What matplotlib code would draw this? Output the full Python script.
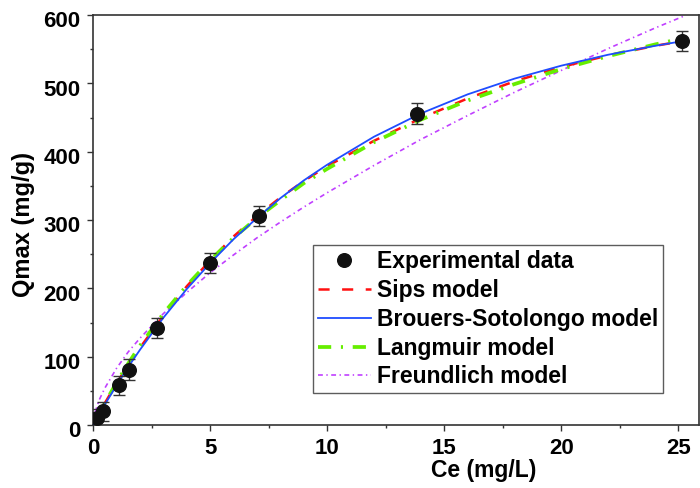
import numpy as np
import matplotlib
matplotlib.use("Agg")
import matplotlib.pyplot as plt
import matplotlib.transforms as mtransforms

plt.rcParams['font.family'] = ['Liberation Sans', 'DejaVu Sans']
plt.rcParams['font.weight'] = 'bold'
plt.rcParams['lines.scale_dashes'] = False

# experimental data
ce = [0.16, 0.44, 1.11, 1.55, 2.75, 5.0, 7.1, 13.85, 25.15]
qe = [10, 20, 58, 81, 142, 237, 306, 456, 562]
qe_err = [14, 14, 14, 15, 15, 15, 15, 15, 15]

# model curves
ce_fit = [0, 0.25, 0.5, 1, 1.5, 2, 3, 4, 5, 6, 7, 8, 9, 10, 12, 14, 16, 18, 20, 22, 24, 25.2]
q_sips = [0, 16, 32, 61, 88, 113, 160, 203, 241, 276, 306, 333, 357, 379, 416, 449, 478, 503, 524, 541, 555, 562]
q_bs = [0, 15, 30, 58, 85, 110, 157, 199, 237, 272, 303, 332, 358, 381, 422, 456, 484, 507, 526, 542, 555, 562]
q_lang = [0, 16, 32, 62, 90, 116, 163, 204, 241, 274, 303, 329, 354, 375, 414, 447, 475, 499, 521, 540, 557, 566]
ce_fr = [0, 0.1, 0.25, 0.5, 1, 1.5, 2, 3, 4, 5, 6, 7, 8, 9, 10, 12, 14, 16, 18, 20, 22, 24, 25.2]
q_fr = [0, 20, 36, 54, 83, 107, 127, 163, 194, 223, 249, 274, 297, 319, 340, 380, 418, 453, 487, 519, 551, 581, 598]

fig = plt.figure(figsize=(7, 4.88), dpi=100)
ax = fig.add_axes([0.133, 0.129, 0.866, 0.840])

l_sips, = ax.plot(ce_fit, q_sips, color='#ff1010', lw=1.8, dashes=(8, 9), zorder=3)
l_bs, = ax.plot(ce_fit, q_bs, color='#1f4cff', lw=1.3, zorder=4)
l_lang, = ax.plot(ce_fit, q_lang, color='#66ee00', lw=2.7, dashes=(9.5, 7, 1.5, 7), zorder=3)
l_fr, = ax.plot(ce_fr, q_fr, color='#c040ff', lw=1.2, dashes=(3.5, 2.5, 1, 2.5), zorder=2)
eb = ax.errorbar(ce, qe, yerr=qe_err, fmt='o', color='#111111', ecolor='#333333',
                 markersize=9.8, elinewidth=1, capsize=4, capthick=1, zorder=5)

ax.set_xlim(0, 25.9)
ax.set_ylim(0, 600)
ax.set_xticks([0, 5, 10, 15, 20, 25])
ax.set_xticks([2.5, 7.5, 12.5, 17.5, 22.5], minor=True)
ax.set_yticks(np.arange(0, 601, 100))
ax.set_yticks(np.arange(50, 600, 100), minor=True)
ax.tick_params(which='major', length=4, width=1, labelsize=16, color='#333333')
ax.tick_params(axis='x', which='major', pad=5)
ax.tick_params(axis='y', which='major', pad=5)
ax.tick_params(which='minor', length=2.5, width=1, color='#333333')
for s in ax.spines.values():
    s.set_linewidth(1.2)
    s.set_color('#333333')

# y tick labels sit a little below their ticks in the original
shift = mtransforms.ScaledTranslation(0, -3 / 72, fig.dpi_scale_trans)
for lab in ax.get_yticklabels():
    lab.set_transform(lab.get_transform() + shift)

ax.set_xlabel('Ce (mg/L)', fontsize=16.5, fontweight='bold')
ax.xaxis.set_label_coords(0.644, -0.084)
ax.set_ylabel('Qmax (mg/g)', fontsize=17, fontweight='bold')
ax.yaxis.set_label_coords(-0.096, 0.49)

leg = ax.legend([eb[0], l_sips, l_bs, l_lang, l_fr],
                ['Experimental data', 'Sips model', 'Brouers-Sotolongo model',
                 'Langmuir model', 'Freundlich model'],
                loc='lower right', bbox_to_anchor=(0.94, 0.078),
                fontsize=16.5, frameon=True, fancybox=False, edgecolor='#333333',
                handlelength=2.35, labelspacing=0.26, borderpad=0.2,
                handletextpad=0.25, borderaxespad=0)
leg.get_frame().set_linewidth(1.0)

fig.savefig('out.png', dpi=100)
